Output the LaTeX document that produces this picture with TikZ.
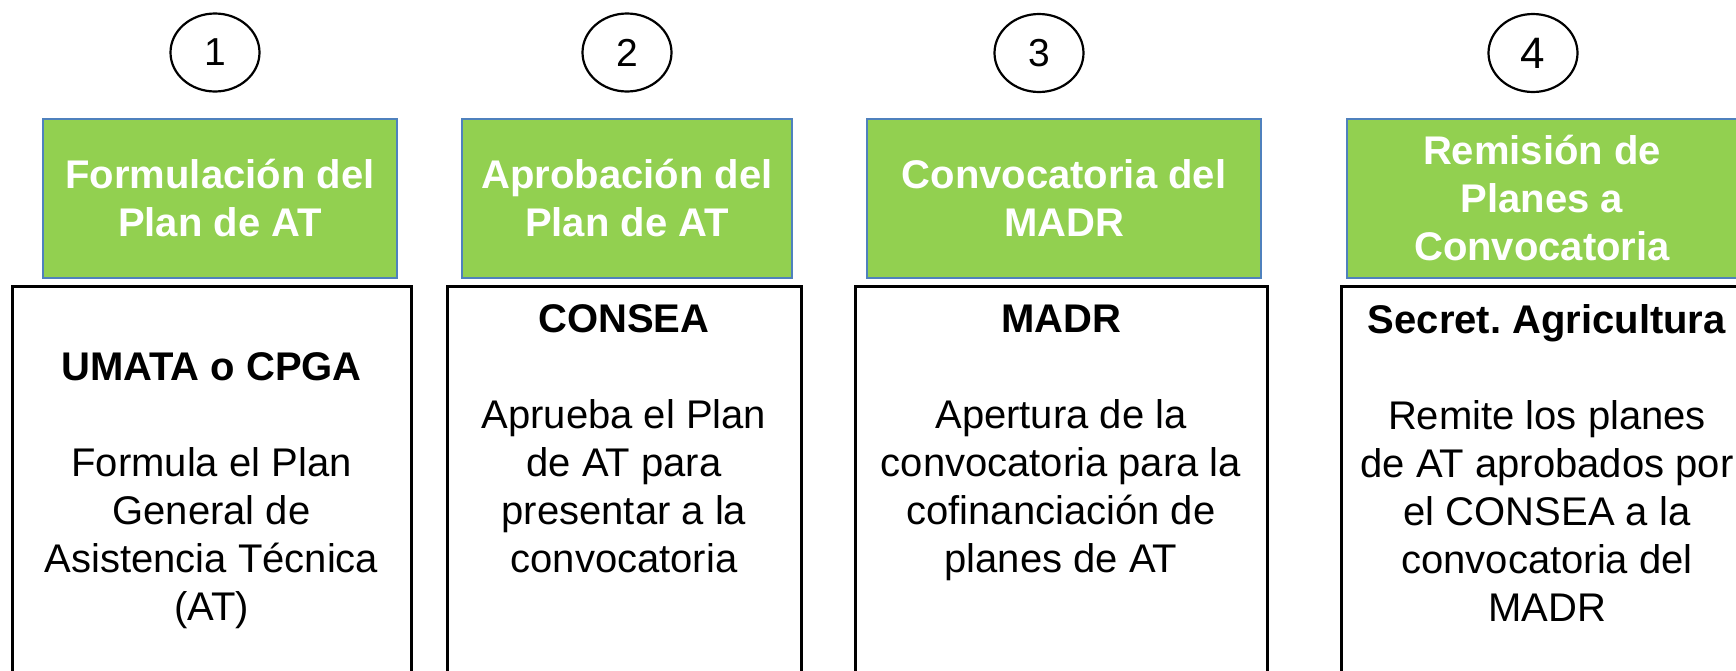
\documentclass[tikz,border=0pt]{standalone}
\usepackage{fontspec}
\setmainfont{Liberation Sans}
\usetikzlibrary{positioning, shapes.geometric}

\definecolor{headgreen}{RGB}{146,208,80}
\definecolor{headblue}{RGB}{79,129,189}

\frenchspacing

\begin{document}
\begin{tikzpicture}
    [
        x = 0.5pt, y = -0.5pt,
        stepnum/.style = {draw, ellipse, line width = 1.1pt, minimum width = 44.5pt, minimum height = 39pt, inner sep = 0pt, font = \fontsize{19.5}{22}\selectfont},
        stephead/.style = {draw = headblue, fill = headgreen, line width = 1pt, text = white, align = center, inner sep = 0pt, minimum height = 79.5pt, font = \bfseries\fontsize{20}{24}\selectfont},
        stepbox/.style = {draw, line width = 1.5pt, anchor = north, minimum height = 220pt},
        steptext/.style = {align = center, inner sep = 0pt, anchor = north, font = \fontsize{20}{24}\selectfont}
    ]

        \useasboundingbox (0,0) rectangle (1736,670);
        \clip (0,0) rectangle (1736,670);

        % numbers
        \node[stepnum] (num1) at (215,52.5) {1};
        \node[stepnum] (num2) at (627,52.5) {2};
        \node[stepnum] (num3) at (1039,53) {3};
        \node[stepnum, font = \fontsize{22}{24}\selectfont] (num4) at (1533,53) {4};

        % green headers
        \node[stephead, minimum width = 177pt] (head1) at (220,198.5) {Formulación del\\Plan de AT};
        \node[stephead, minimum width = 165pt] (head2) at (627,198.5) {Aprobación del\\Plan de AT};
        \node[stephead, minimum width = 197pt] (head3) at (1064,198.5) {Convocatoria del\\MADR};
        \node[stephead, minimum width = 195pt] (head4) at (1542,198.5) {Remisión de\\Planes a\\Convocatoria};

        % boxes
        \node[stepbox, minimum width = 199.5pt] (box1) at (211.5,285) {};
        \node[stepbox, minimum width = 177pt] (box2) at (624,285) {};
        \node[stepbox, minimum width = 206pt] (box3) at (1061,285) {};
        \node[stepbox, minimum width = 206pt] (box4) at (1547,285) {};

        % box texts
        \node[steptext, below = 33.7pt of box1.north] (txt1)
            {\textbf{UMATA o CPGA}\\[24pt]Formula el Plan\\General de\\Asistencia Técnica\\(AT)};
        \node[steptext, below = 9.7pt of box2.north] (txt2)
            {\textbf{CONSEA}\\[24pt]Aprueba el Plan\\de AT para\\presentar a la\\convocatoria};
        \node[steptext, below = 9.7pt of box3.north] (txt3)
            {\textbf{MADR}\\[24pt]Apertura de la\\convocatoria para la\\cofinanciación de\\planes de AT};
        \node[steptext, below = 9.7pt of box4.north] (txt4)
            {\textbf{Secret. Agricultura}\\[24pt]Remite los planes\\de AT aprobados por\\el CONSEA a la\\convocatoria del\\MADR};
    \end{tikzpicture}
\end{document}
